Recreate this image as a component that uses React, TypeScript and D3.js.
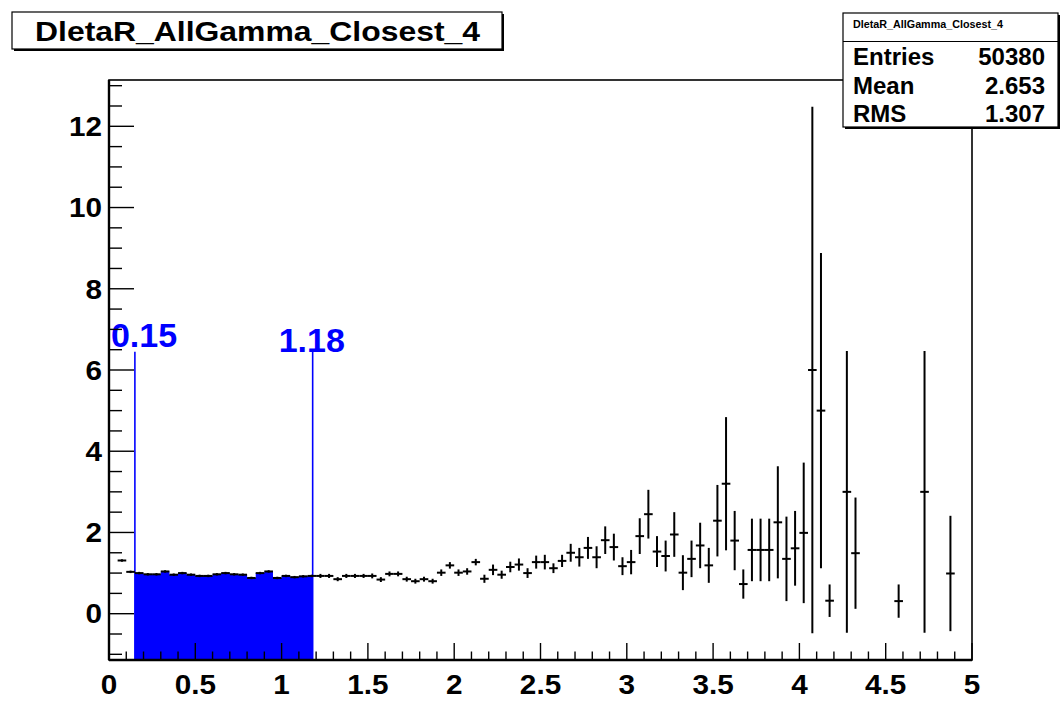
import React from "react";
import * as d3 from "d3";

// ---- data (bin width 0.05 on [0,5]; null = empty bin) ----
const binEdges = d3.range(0, 101).map((i) => i * 0.05);
const binValues: (number | null)[] = [
  null, 1.31, 1.03, 1.0, 0.97, 0.97, 1.04, 0.96, 1.0, 0.96,
  0.93, 0.93, 0.97, 1.0, 0.97, 0.96, 0.88, 1.0, 1.04, 0.88,
  0.93, 0.9, 0.92, 0.93, 0.93, 0.93, 0.85, 0.93, 0.93, 0.93,
  0.93, 0.84, 0.98, 0.98, 0.85, 0.8, 0.85, 0.8, 1.01, 1.19,
  1.01, 1.04, 1.27, 0.86, 1.08, 0.96, 1.15, 1.21, 1.0, 1.27,
  1.27, 1.12, 1.3, 1.5, 1.39, 1.62, 1.39, 1.81, 1.64, 1.17,
  1.27, 1.91, 2.45, 1.53, 1.42, 1.95, 1.01, 1.35, 1.68, 1.19,
  2.29, 3.2, 1.8, 0.73, 1.57, 1.57, 1.57, 2.25, 1.35, 1.61,
  1.99, 6.0, 5.0, 0.32, null, 3.0, 1.49, null, null, null,
  null, 0.31, null, null, 3.0, null, null, 0.99, null, null,
];
const binErrors: number[] = [
  0, 0.03, 0.03, 0.03, 0.03, 0.03, 0.03, 0.03, 0.03, 0.03,
  0.03, 0.03, 0.03, 0.03, 0.03, 0.03, 0.03, 0.03, 0.03, 0.03,
  0.03, 0.03, 0.03, 0.03, 0.05, 0.05, 0.05, 0.05, 0.05, 0.05,
  0.06, 0.06, 0.06, 0.06, 0.06, 0.06, 0.06, 0.06, 0.08, 0.08,
  0.08, 0.08, 0.08, 0.1, 0.13, 0.1, 0.13, 0.15, 0.12, 0.16,
  0.18, 0.12, 0.15, 0.22, 0.23, 0.27, 0.27, 0.34, 0.33, 0.22,
  0.3, 0.44, 0.6, 0.38, 0.38, 0.55, 0.43, 0.45, 0.56, 0.43,
  0.88, 1.64, 0.73, 0.36, 0.77, 0.77, 0.77, 1.38, 1.04, 0.92,
  1.73, 6.48, 3.88, 0.4, 0, 3.47, 1.37, 0, 0, 0,
  0, 0.41, 0, 0, 3.47, 0, 0, 1.42, 0, 0,
];
const cutValues = [0.15, 1.18];
const cutLabels = ["0.15", "1.18"];
const xTickLabels = ["0", "0.5", "1", "1.5", "2", "2.5", "3", "3.5", "4", "4.5", "5"];
const yTickLabels = ["0", "2", "4", "6", "8", "10", "12"];
const histTitle = "DletaR_AllGamma_Closest_4";
const statNames = ["Entries", "Mean", "RMS"];
const statValues = ["50380", "2.653", "1.307"];
const cutLineTop = 6.45;

// ---- layout ----
const W = 1062;
const H = 724;
const frame = { left: 109, right: 972, top: 80, bottom: 660 };
const yDomain: [number, number] = [-1.14, 13.14];
const FONT = "'Liberation Sans', Arial, Helvetica, sans-serif";
const BLUE = "#0000ff";
const cutLabelDx = [-24, -34];
const cutLabelY = [347, 352];

export default function App() {
  const x = d3.scaleLinear().domain([0, 5]).range([frame.left, frame.right]);
  const y = d3.scaleLinear().domain(yDomain).range([frame.bottom, frame.top]);

  // filled region between cuts
  const [lo, hi] = cutValues;
  let fillPath = `M${x(lo)},${y(yDomain[0])}`;
  binValues.forEach((v, i) => {
    const a = binEdges[i];
    const b = binEdges[i + 1];
    if (b <= lo || a >= hi || v == null) return;
    const x0 = Math.max(a, lo);
    const x1 = Math.min(b, hi);
    fillPath += `L${x(x0)},${y(v)}L${x(x1)},${y(v)}`;
  });
  fillPath += `L${x(hi)},${y(yDomain[0])}Z`;

  const xMajor = d3.range(0, 11).map((i) => i * 0.5);
  const xMinor = d3.range(0, 51).map((i) => i * 0.1).filter((t) => Math.abs(t / 0.5 - Math.round(t / 0.5)) > 1e-6);
  const yAll = d3.range(-2, 27).map((i) => i * 0.5).filter((t) => t >= yDomain[0] && t <= yDomain[1]);

  const clampY = (v: number) => Math.max(yDomain[0], Math.min(yDomain[1], v));

  return (
    <svg
      width={W}
      height={H}
      style={{ position: "absolute", left: 0, top: 0, background: "#fff" }}
      fontFamily={FONT}
    >
      <rect x={0} y={0} width={W} height={H} fill="#fff" />

      {/* fill */}
      <path d={fillPath} fill={BLUE} stroke="none" />

      {/* cut lines */}
      {cutValues.map((c, i) => (
        <g key={"cut" + i}>
          <line x1={x(c)} x2={x(c)} y1={y(yDomain[0])} y2={y(cutLineTop)} stroke={BLUE} strokeWidth={1.6} />
          <text x={x(c) + cutLabelDx[i]} y={cutLabelY[i]} fill={BLUE} fontSize={34} fontWeight="bold">
            {cutLabels[i]}
          </text>
        </g>
      ))}

      {/* data markers with error bars */}
      {binValues.map((v, i) => {
        if (v == null) return null;
        const e = binErrors[i];
        const xc = x((binEdges[i] + binEdges[i + 1]) / 2);
        return (
          <g key={"m" + i} stroke="#000" strokeWidth={2}>
            <line x1={x(binEdges[i])} x2={x(binEdges[i + 1])} y1={y(v)} y2={y(v)} />
            {e > 0 && <line x1={xc} x2={xc} y1={y(clampY(v - e))} y2={y(clampY(v + e))} />}
          </g>
        );
      })}

      {/* ticks */}
      <g stroke="#000" strokeWidth={1.4}>
        {xMajor.map((t) => (
          <line key={"xM" + t} x1={x(t)} x2={x(t)} y1={frame.bottom} y2={frame.bottom - 17} />
        ))}
        {xMinor.map((t) => (
          <line key={"xm" + t} x1={x(t)} x2={x(t)} y1={frame.bottom} y2={frame.bottom - 8.5} />
        ))}
        {yAll.map((t) => {
          const major = Math.abs(t / 2 - Math.round(t / 2)) < 1e-6;
          return (
            <line key={"y" + t} x1={frame.left} x2={frame.left + (major ? 25 : 13)} y1={y(t)} y2={y(t)} />
          );
        })}
      </g>

      {/* frame */}
      <rect
        x={frame.left}
        y={frame.top}
        width={frame.right - frame.left}
        height={frame.bottom - frame.top}
        fill="none"
        stroke="#000"
        strokeWidth={1.6}
      />
      <line x1={frame.left} x2={frame.right} y1={frame.bottom} y2={frame.bottom} stroke="#000" strokeWidth={2.4} />
      <line x1={frame.left} x2={frame.left} y1={frame.top} y2={frame.bottom} stroke="#000" strokeWidth={2.4} />

      {/* tick labels */}
      {xTickLabels.map((lab, i) => (
        <text
          key={"xl" + i}
          transform={`translate(${x(+lab)},694) scale(1.1,1)`}
          textAnchor="middle"
          fontSize={27}
          fontWeight="bold"
        >
          {lab}
        </text>
      ))}
      {yTickLabels.map((lab, i) => (
        <text
          key={"yl" + i}
          transform={`translate(102,${y(+lab) + 9.8}) scale(1.1,1)`}
          textAnchor="end"
          fontSize={27}
          fontWeight="bold"
        >
          {lab}
        </text>
      ))}

      {/* title box */}
      <rect x={14} y={14} width={490} height={37} fill="#000" />
      <rect x={12} y={12} width={490} height={37} fill="#fff" stroke="#000" strokeWidth={1.2} />
      <text x={35} y={41} fontSize={27} fontWeight="bold" textLength={445} lengthAdjust="spacingAndGlyphs">
        {histTitle}
      </text>

      {/* stats box */}
      <rect x={845} y={15} width={215} height={114} fill="#000" />
      <rect x={843} y={13} width={215} height={114} fill="#fff" stroke="#000" strokeWidth={1.2} />
      <line x1={843} x2={1058} y1={41.5} y2={41.5} stroke="#000" strokeWidth={1.2} />
      <text x={853} y={28} fontSize={10} fontWeight="bold" textLength={150} lengthAdjust="spacingAndGlyphs">
        {histTitle}
      </text>
      {statNames.map((n, i) => (
        <g key={"st" + i}>
          <text x={853} y={65 + i * 28.5} fontSize={24} fontWeight="bold">
            {n}
          </text>
          <text x={1045} y={65 + i * 28.5} fontSize={24} fontWeight="bold" textAnchor="end">
            {statValues[i]}
          </text>
        </g>
      ))}
    </svg>
  );
}
